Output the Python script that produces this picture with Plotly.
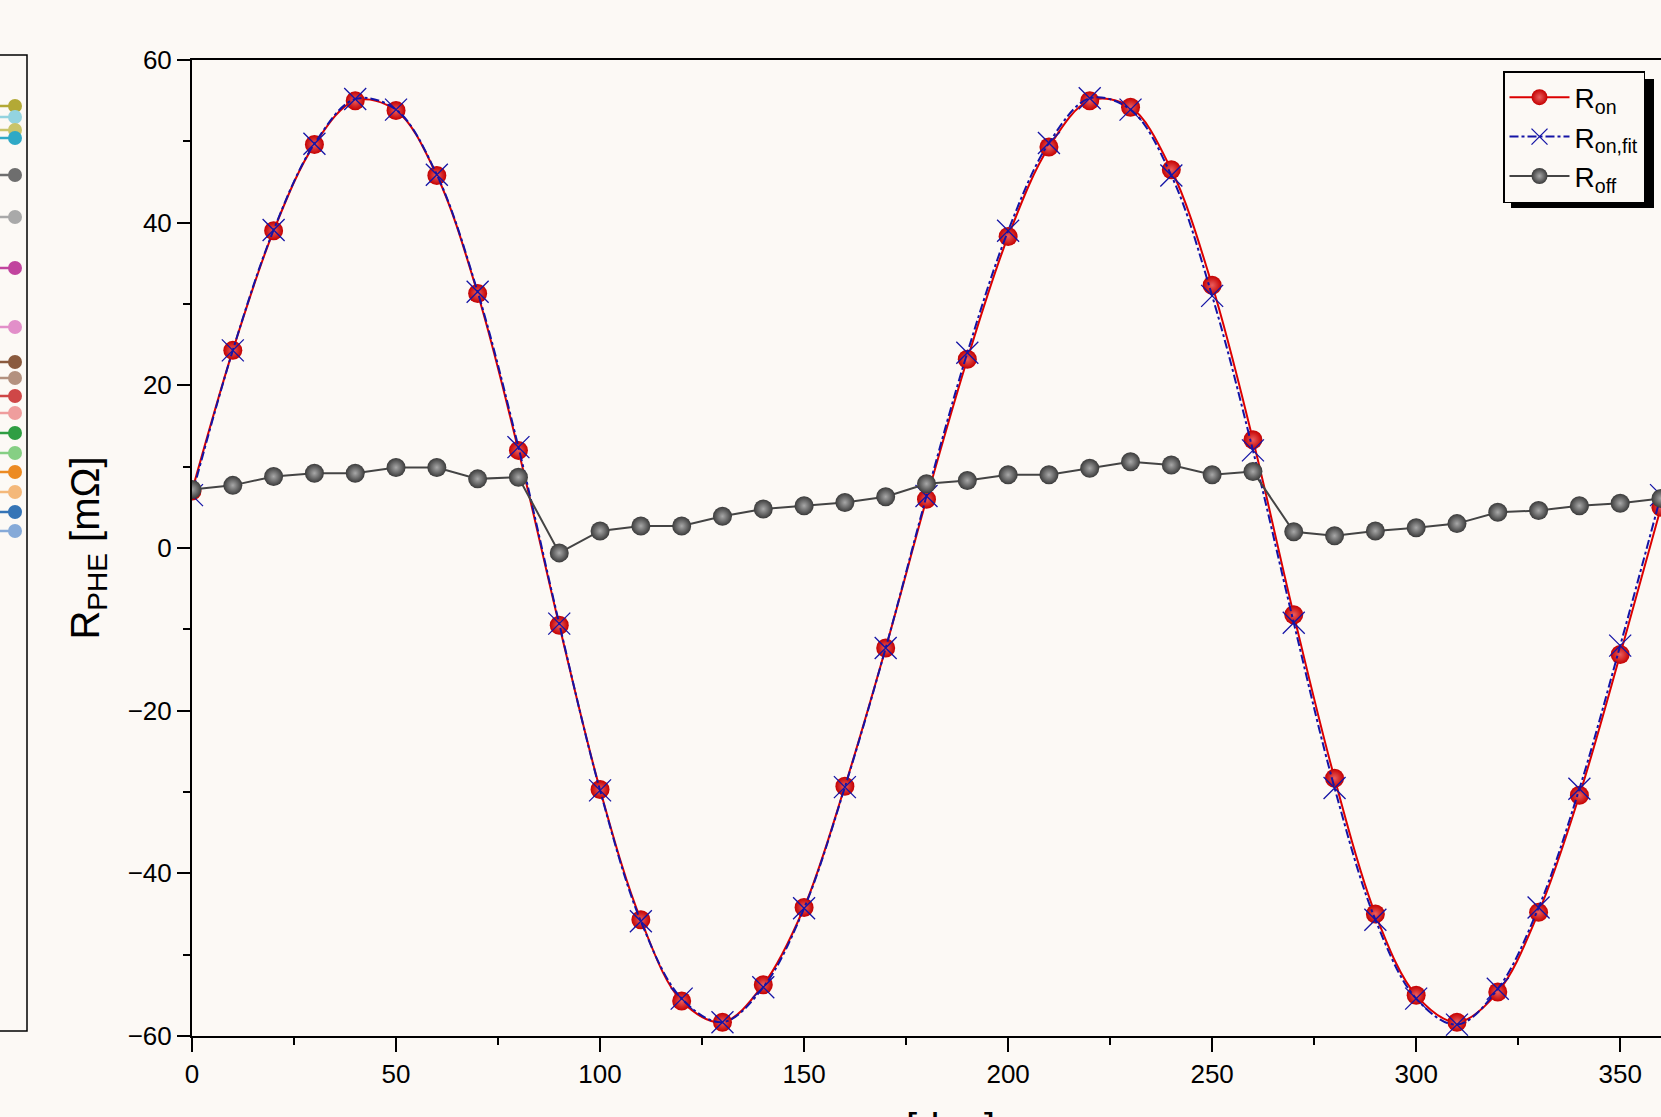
import plotly.graph_objects as go

# ---------------- data ----------------
phi = [0, 10, 20, 30, 40, 50, 60, 70, 80, 90, 100, 110, 120, 130, 140, 150, 160, 170, 180,
       190, 200, 210, 220, 230, 240, 250, 260, 270, 280, 290, 300, 310, 320, 330, 340, 350, 360]

r_on = [7.0, 24.3, 39.0, 49.6, 55.0, 53.8, 45.8, 31.3, 12.0, -9.5, -29.7, -45.7, -55.7, -58.3,
        -53.7, -44.2, -29.3, -12.3, 6.0, 23.2, 38.3, 49.3, 55.0, 54.2, 46.5, 32.3, 13.3, -8.2,
        -28.3, -45.0, -55.0, -58.3, -54.6, -44.8, -30.4, -13.1, 5.0]

r_on_fit = [6.5, 24.3, 39.1, 49.7, 55.2, 53.9, 45.9, 31.5, 12.4, -9.3, -29.8, -45.9, -55.4, -58.3,
            -54.0, -44.3, -29.4, -12.3, 6.4, 24.0, 39.0, 49.8, 55.3, 53.9, 45.8, 31.0, 12.0, -9.2,
            -29.5, -45.7, -55.4, -58.6, -54.2, -44.2, -29.6, -12.0, 6.5]

r_off = [7.2, 7.7, 8.8, 9.2, 9.2, 9.9, 9.9, 8.5, 8.7, -0.6, 2.1, 2.7, 2.7, 3.9, 4.8, 5.2, 5.6,
         6.3, 7.9, 8.3, 9.0, 9.0, 9.8, 10.6, 10.2, 9.0, 9.4, 2.0, 1.5, 2.1, 2.5, 3.0, 4.4, 4.6,
         5.2, 5.5, 6.1]

x_ticks = [0, 50, 100, 150, 200, 250, 300, 350]
y_ticks = [-60, -40, -20, 0, 20, 40, 60]
y_tick_text = ["\u221260", "\u221240", "\u221220", "0", "20", "40", "60"]

x_title = "φ [deg]"
y_title = "R<sub>PHE</sub> [mΩ]"

# colours of the partially visible neighbouring legend (top to bottom)
side_colors = ["#b3a936", "#93d3df", "#c9c46a", "#2fa9c6", "#6e6e6e", "#a9a9a9", "#c1449e",
               "#e28fc9", "#8a5a3e", "#b3917f", "#cf4747", "#ef9d9d", "#2f9e43", "#86cf84",
               "#ec8a22", "#f4b87a", "#3574b6", "#86aad8"]
side_y_px = [106, 117, 130, 138, 175, 217, 268, 327, 362, 378, 396, 413, 433, 453, 472, 492,
             512, 531]

BG = "#fcf9f5"
W, H = 1661, 1117
ML, MR, MT, MB = 192, 0, 60, 81
PW, PH = W - ML - MR, H - MT - MB


def px_x(px):
    return (px - ML) / PW


def px_y(py):
    return 1 - (py - MT) / PH


fig = go.Figure()

fig.add_trace(go.Scatter(
    x=phi, y=r_on, name="R<sub>on</sub>", mode="lines+markers",
    line=dict(color="#dc0000", width=2, shape="spline"),
    marker=dict(size=19, color="#c40000",
                gradient=dict(type="radial", color="#ea5e5e"),
                line=dict(width=0)),
))
fig.add_trace(go.Scatter(
    x=phi, y=r_on_fit, name="R<sub>on,fit</sub>", mode="lines+markers",
    line=dict(color="#1414a6", width=2, dash="dashdot", shape="spline"),
    marker=dict(symbol="x-thin", size=22, color="#1414a6",
                line=dict(width=1.3, color="#1414a6")),
))
fig.add_trace(go.Scatter(
    x=phi, y=r_off, name="R<sub>off</sub>", mode="lines+markers",
    line=dict(color="#444444", width=2),
    marker=dict(size=19, color="#3a3a3a",
                gradient=dict(type="radial", color="#a8a8a8"),
                line=dict(width=0)),
))

shapes = []
# legend shadow
shapes.append(dict(type="rect", xref="paper", yref="paper",
                   x0=px_x(1511), x1=px_x(1654), y0=px_y(208), y1=px_y(79),
                   fillcolor="black", line=dict(width=0), layer="above"))
# partial neighbouring legend box on the left
shapes.append(dict(type="rect", xref="paper", yref="paper",
                   x0=px_x(-10), x1=px_x(27), y0=px_y(1031), y1=px_y(55),
                   fillcolor="rgba(0,0,0,0)", line=dict(color="black", width=1.5)))
for c, yy in zip(side_colors, side_y_px):
    shapes.append(dict(type="line", xref="paper", yref="paper",
                       x0=px_x(-5), x1=px_x(14), y0=px_y(yy), y1=px_y(yy),
                       line=dict(color=c, width=2.5)))
    shapes.append(dict(type="circle", xref="paper", yref="paper",
                       x0=px_x(8), x1=px_x(22), y0=px_y(yy + 7), y1=px_y(yy - 7),
                       fillcolor=c, line=dict(width=0)))

fig.update_layout(
    width=W, height=H,
    margin=dict(l=ML, r=MR, t=MT, b=MB, autoexpand=False),
    paper_bgcolor=BG, plot_bgcolor=BG,
    font=dict(family="Liberation Sans, Arial, sans-serif", color="black", size=22),
    showlegend=True,
    legend=dict(
        x=px_x(1503), y=px_y(71), xanchor="left", yanchor="top",
        bgcolor=BG, bordercolor="black", borderwidth=1.5,
        font=dict(size=28), tracegroupgap=0, itemwidth=60,
    ),
    shapes=shapes,
    annotations=[dict(text=x_title, xref="paper", yref="paper",
                      x=px_x(932), y=px_y(1104), xanchor="center", yanchor="top",
                      showarrow=False, font=dict(size=40))],
    xaxis=dict(
        range=[0, 360], tickmode="array", tickvals=x_ticks,
        ticks="outside", ticklen=14, tickwidth=1.5, tickcolor="black",
        minor=dict(ticks="outside", ticklen=7, tickwidth=1.5, dtick=25, tick0=0, tickcolor="black"),
        showline=True, linecolor="black", linewidth=2, mirror=True,
        showgrid=False, zeroline=False, automargin=False,
        tickfont=dict(size=26),
    ),
    yaxis=dict(
        range=[-60, 60], tickmode="array", tickvals=y_ticks, ticktext=y_tick_text,
        ticks="outside", ticklen=13, tickwidth=1.5, tickcolor="black",
        minor=dict(ticks="outside", ticklen=7, tickwidth=1.5, dtick=10, tick0=0, tickcolor="black"),
        showline=True, linecolor="black", linewidth=2, mirror=False,
        showgrid=False, zeroline=False, automargin=False,
        tickfont=dict(size=26),
        title=dict(text=y_title, font=dict(size=40), standoff=16),
    ),
)

fig.write_html("out.html", config={"displayModeBar": False},
               post_script="document.body.style.margin='0';document.body.style.background='#fcf9f5';")
